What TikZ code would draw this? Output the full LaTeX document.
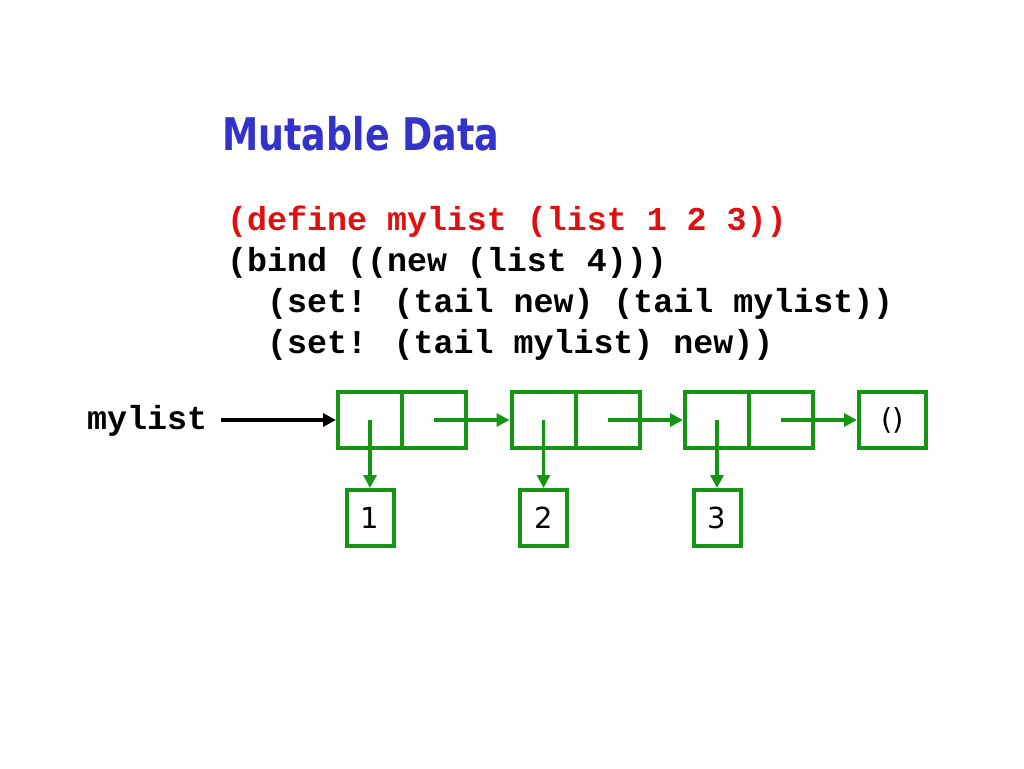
\documentclass[tikz,border=0pt]{standalone}
\usepackage{fontspec}
\setmainfont{DejaVu Sans}
\newfontfamily\codefont{Liberation Mono}
\usetikzlibrary{arrows.meta}
\definecolor{titleblue}{RGB}{51,51,204}
\definecolor{codered}{RGB}{224,16,16}
\definecolor{boxgreen}{RGB}{20,150,20}
\tikzset{
  half/.style={draw=boxgreen, line width=4pt, minimum width=64pt, minimum height=56pt, inner sep=0pt},
  numbox/.style={draw=boxgreen, line width=4pt, minimum width=47pt, minimum height=56pt, inner sep=0pt, font=\fontsize{29}{29}\selectfont},
  ptr/.style={draw=boxgreen, line width=3.6pt, -{Triangle[length=13pt,width=13pt]}},
  codeline/.style={anchor=base west, inner sep=0pt, font=\codefont\bfseries\fontsize{33.3}{33.3}\selectfont},
}
\begin{document}
\begin{tikzpicture}[x=1pt,y=-1pt]
\useasboundingbox[fill=white] (0,0) rectangle (1024,768);
\node[anchor=base west, inner sep=0pt, text=titleblue] (title) at (222,150)
  {\scalebox{0.81}[1]{\fontsize{45}{45}\selectfont\bfseries Mutable Data}};
\node[codeline, text=codered] (l1) at (227,230) {(define mylist (list 1 2 3))};
\node[codeline] (l2) at (227,271) {(bind ((new (list 4)))};
\node[codeline] (l3) at (227,312) {\ \ (set! (tail new) (tail mylist))};
\node[codeline] (l4) at (227,353) {\ \ (set! (tail mylist) new))};
\node[codeline] (ml) at (87,429) {mylist};
% cells
\node[half] (c1a) at (370,420) {};
\node[half] (c1d) at (434,420) {};
\node[half] (c2a) at (543.5,420) {};
\node[half] (c2d) at (607.5,420) {};
\node[half] (c3a) at (717,420) {};
\node[half] (c3d) at (781,420) {};
\node[draw=boxgreen, line width=4pt, minimum width=67pt, minimum height=56pt, inner sep=0pt, font=\fontsize{29}{29}\selectfont] (nil) at (892.5,420) {()};
\node[numbox] (n1) at (370,518) {1};
\node[numbox] (n2) at (543.5,518) {2};
\node[numbox] (n3) at (717,518) {3};
% pointers
\coordinate (mls) at (221,420);
\draw[line width=3.6pt, -{Triangle[length=13pt,width=13pt]}] (mls) -- (c1a.west);
\draw[ptr] (c1a.center) -- (n1.north);
\draw[ptr] (c2a.center) -- (n2.north);
\draw[ptr] (c3a.center) -- (n3.north);
\draw[ptr] (c1d.center) -- (c2a.west);
\draw[ptr] (c2d.center) -- (c3a.west);
\draw[ptr] (c3d.center) -- (nil.west);
\end{tikzpicture}
\end{document}
